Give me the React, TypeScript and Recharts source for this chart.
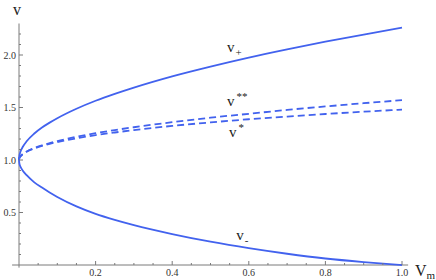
import React from 'react';
import {
  LineChart,
  Line,
  XAxis,
  YAxis,
  ReferenceLine,
  ReferenceDot
} from 'recharts';

// V_m samples and curve values
const vm = [0, 0.001, 0.0025, 0.005, 0.01, 0.02, 0.04, 0.06, 0.08, 0.1, 0.15, 0.2, 0.25, 0.3, 0.4, 0.5, 0.6, 0.7, 0.8, 0.9, 1.0];
const vPlus = [1, 1.04, 1.063, 1.09, 1.126, 1.178, 1.252, 1.309, 1.356, 1.398, 1.488, 1.564, 1.63, 1.69, 1.797, 1.89, 1.976, 2.054, 2.127, 2.195, 2.26];
const vMinus = [1, 0.967, 0.948, 0.928, 0.898, 0.855, 0.787, 0.737, 0.69, 0.648, 0.558, 0.487, 0.43, 0.38, 0.295, 0.222, 0.16, 0.107, 0.062, 0.028, 0];
const vStarStar = [1, 1.018, 1.028, 1.04, 1.057, 1.081, 1.114, 1.14, 1.161, 1.18, 1.221, 1.255, 1.285, 1.312, 1.36, 1.403, 1.44, 1.477, 1.51, 1.541, 1.57];
const vStar = [1, 1.018, 1.028, 1.04, 1.056, 1.079, 1.11, 1.134, 1.154, 1.171, 1.207, 1.237, 1.262, 1.285, 1.325, 1.358, 1.388, 1.414, 1.438, 1.46, 1.48];

const xMajor = [0.2, 0.4, 0.6, 0.8, 1.0];
const xTicks = [0.05, 0.1, 0.15, 0.2, 0.25, 0.3, 0.35, 0.4, 0.45, 0.5, 0.55, 0.6, 0.65, 0.7, 0.75, 0.8, 0.85, 0.9, 0.95, 1.0];
const yMajor = [0.5, 1.0, 1.5, 2.0];
const yTicks = [0.1, 0.2, 0.3, 0.4, 0.5, 0.6, 0.7, 0.8, 0.9, 1.0, 1.1, 1.2, 1.3, 1.4, 1.5, 1.6, 1.7, 1.8, 1.9, 2.0, 2.1, 2.2];

const data = vm.map((x, i) => ({
  x,
  plus: vPlus[i],
  minus: vMinus[i],
  ss: vStarStar[i],
  s: vStar[i]
}));

const BLUE = '#4262ee';
const AXIS = '#7a7a7a';
const SERIF = '"Liberation Serif", "DejaVu Serif", serif';

const isMajor = (list: number[], v: number) => list.some((m) => Math.abs(m - v) < 1e-9);

const XTick = (props: any) => {
  const { x, y, payload } = props;
  const major = isMajor(xMajor, payload.value);
  return (
    <g>
      <line x1={x} x2={x} y1={y} y2={y - (major ? 4 : 2)} stroke={AXIS} strokeWidth={1} />
      {major && (
        <text x={x} y={y + 11} textAnchor="middle" fontFamily={SERIF} fontSize={10} fill="#333">
          {payload.value.toFixed(1)}
        </text>
      )}
    </g>
  );
};

const YTick = (props: any) => {
  const { x, y, payload } = props;
  const major = isMajor(yMajor, payload.value);
  return (
    <g>
      <line x1={x} x2={x + (major ? 4 : 2)} y1={y} y2={y} stroke={AXIS} strokeWidth={1} />
      {major && (
        <text x={x - 3} y={y + 3.5} textAnchor="end" fontFamily={SERIF} fontSize={10} fill="#333">
          {payload.value.toFixed(1)}
        </text>
      )}
    </g>
  );
};

const curveLabel = (sup: string, sub: string) => (props: any) => {
  const { cx, cy } = props;
  return (
    <text x={cx} y={cy} fontFamily={SERIF} fontSize={15} fill="#222">
      v
      {sub && <tspan fontSize={11} dx={1} dy={4}>{sub}</tspan>}
      {sup && <tspan fontSize={11} dx={2} dy={-6}>{sup}</tspan>}
    </text>
  );
};

const App: React.FC = () => {
  return (
    <div style={{ position: 'absolute', left: 0, top: 0, width: 436, height: 280, background: '#fff' }}>
      <LineChart
        width={436}
        height={280}
        data={data}
        margin={{ top: 23.5, right: 34, bottom: 0, left: 0 }}
      >
        <XAxis
          dataKey="x"
          type="number"
          domain={[0, 1]}
          ticks={xTicks}
          interval={0}
          height={15}
          axisLine={false}
          tickLine={false}
          tickSize={0}
          tickMargin={0}
          tick={<XTick />}
          label={{
            content: (p: any) => {
              const vb = p.viewBox;
              return (
                <text x={vb.x + vb.width + 13} y={vb.y + 11} fontFamily={SERIF} fontSize={16} fill="#222">
                  V<tspan fontSize={11} dy={3}>m</tspan>
                </text>
              );
            }
          }}
        />
        <YAxis
          type="number"
          domain={[0, 2.3]}
          ticks={yTicks}
          interval={0}
          width={19}
          axisLine={false}
          tickLine={false}
          tickSize={0}
          tickMargin={0}
          tick={<YTick />}
          label={{
            content: (p: any) => {
              const vb = p.viewBox;
              return (
                <text x={vb.x + 13} y={vb.y - 8.5} fontFamily={SERIF} fontSize={16} fill="#222">
                  v
                </text>
              );
            }
          }}
        />
        <ReferenceLine segment={[{ x: -0.018, y: 0 }, { x: 1.016, y: 0 }]} ifOverflow="visible" stroke={AXIS} strokeWidth={1} />
        <ReferenceLine segment={[{ x: 0, y: -0.025 }, { x: 0, y: 2.3 }]} ifOverflow="visible" stroke={AXIS} strokeWidth={1} />

        <Line type="monotone" dataKey="plus" stroke={BLUE} strokeWidth={1.8} dot={false} isAnimationActive={false} />
        <Line type="monotone" dataKey="minus" stroke={BLUE} strokeWidth={1.8} dot={false} isAnimationActive={false} />
        <Line type="monotone" dataKey="ss" stroke={BLUE} strokeWidth={1.8} strokeDasharray="7 4" dot={false} isAnimationActive={false} />
        <Line type="monotone" dataKey="s" stroke={BLUE} strokeWidth={1.8} strokeDasharray="7 4" dot={false} isAnimationActive={false} />

        <ReferenceDot x={0.543} y={2.03} r={0} shape={curveLabel('', '+')} />
        <ReferenceDot x={0.543} y={1.514} r={0} shape={curveLabel('**', '')} />
        <ReferenceDot x={0.548} y={1.219} r={0} shape={curveLabel('*', '')} />
        <ReferenceDot x={0.567} y={0.238} r={0} shape={curveLabel('', '-')} />
      </LineChart>
    </div>
  );
};

export default App;
